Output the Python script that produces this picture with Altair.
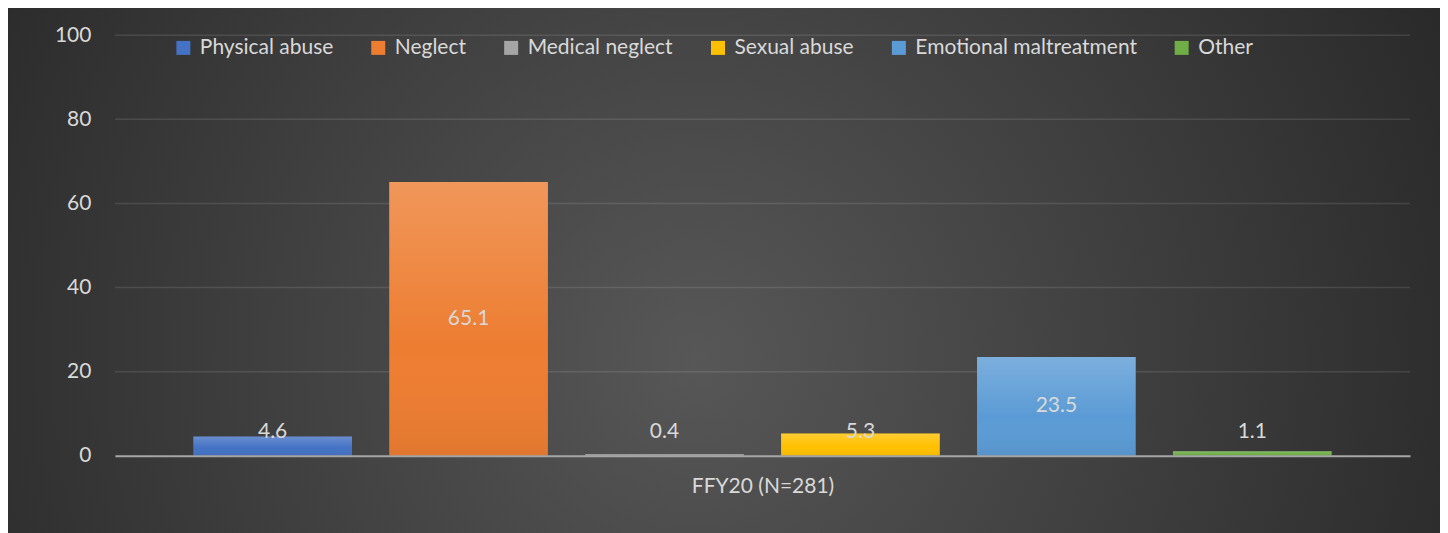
import altair as alt
import pandas as pd

series = ["Physical abuse", "Neglect", "Medical neglect", "Sexual abuse",
          "Emotional maltreatment", "Other"]
values = [4.6, 65.1, 0.4, 5.3, 23.5, 1.1]
colors = ["#4472c4", "#ed7d31", "#a5a5a5", "#ffc000", "#5b9bd5", "#70ad47"]
group_label = "FFY20 (N=281)"
y_ticks = [0, 20, 40, 60, 80, 100]

df = pd.DataFrame({"series": series, "value": values})
grid_df = pd.DataFrame({"tick": y_ticks[1:]})

FONT = "Lato"
FS = 21
TXT = "#d9d9d9"
W, H = 1296, 421
PAD = {"left": 107, "top": 27, "right": 30, "bottom": 80}

bg = alt.Chart(df).mark_rect(
    color=alt.Gradient(
        gradient="radial",
        stops=[alt.GradientStop(color="#575757", offset=0),
               alt.GradientStop(color="#262626", offset=1)],
        x1=0.48, y1=0.56, r1=0.0,
        x2=0.48, y2=0.56, r2=0.62,
    ),
).encode(
    x=alt.value(-PAD["left"]), x2=alt.value(W + PAD["right"]),
    y=alt.value(-PAD["top"]), y2=alt.value(H + PAD["bottom"]),
)

yscale = alt.Scale(domain=[0, 100])

grid = alt.Chart(grid_df).mark_rule(color="#ffffff", opacity=0.11,
                                    strokeWidth=1.5).encode(
    y=alt.Y("tick:Q", scale=yscale),
    x=alt.value(0), x2=alt.value(W),
)

xenc = alt.X("series:N", sort=series,
             scale=alt.Scale(paddingInner=0.19, paddingOuter=0.40),
             axis=alt.Axis(labels=False, ticks=False, title=group_label,
                           titleFont=FONT, titleFontSize=FS, titleColor=TXT,
                           titleFontWeight="normal", titlePadding=20,
                           domainColor="#a6a6a6", domainWidth=2,
                           grid=False, zindex=1))

bars = alt.Chart(df).mark_bar().encode(
    x=xenc,
    y=alt.Y("value:Q", scale=yscale,
            axis=alt.Axis(values=y_ticks, title=None, ticks=False, domain=False,
                          labelFont=FONT, labelFontSize=FS, labelColor=TXT,
                          labelPadding=24, grid=False, zindex=1)),
    color=alt.Color("series:N", sort=series,
                    scale=alt.Scale(domain=series, range=colors),
                    legend=alt.Legend(orient="none", legendX=58, legendY=2,
                                      direction="horizontal", columns=6,
                                      title=None, symbolType="square",
                                      symbolSize=196, symbolStrokeWidth=0,
                                      labelFont=FONT, labelFontSize=FS,
                                      labelColor=TXT, labelOffset=6,
                                      columnPadding=34, labelLimit=400,
                                      zindex=1)),
)

overlay = alt.Chart(df).mark_bar(
    color=alt.Gradient(
        gradient="linear",
        stops=[alt.GradientStop(color="rgba(255,255,255,0.2)", offset=0),
               alt.GradientStop(color="rgba(255,255,255,0.0)", offset=0.6),
               alt.GradientStop(color="rgba(0,0,0,0.05)", offset=1)],
        x1=0, x2=0, y1=0, y2=1,
    ),
).encode(x=alt.X("series:N", sort=series), y=alt.Y("value:Q", scale=yscale))

labels = alt.Chart(df).transform_calculate(
    pos="max(datum.value / 2, 5.7)"
).mark_text(font=FONT, fontSize=FS, color=TXT, baseline="middle").encode(
    x=alt.X("series:N", sort=series),
    y=alt.Y("pos:Q", scale=yscale),
    text=alt.Text("value:Q", format=".1f"),
)

chart = alt.layer(bg, grid, bars, overlay, labels).properties(
    width=W, height=H,
    autosize=alt.AutoSizeParams(type="none"),
    padding=PAD,
    background="#333333",
).configure_view(stroke=None)

chart.save("out.html", embed_options={"renderer": "svg", "actions": False})
